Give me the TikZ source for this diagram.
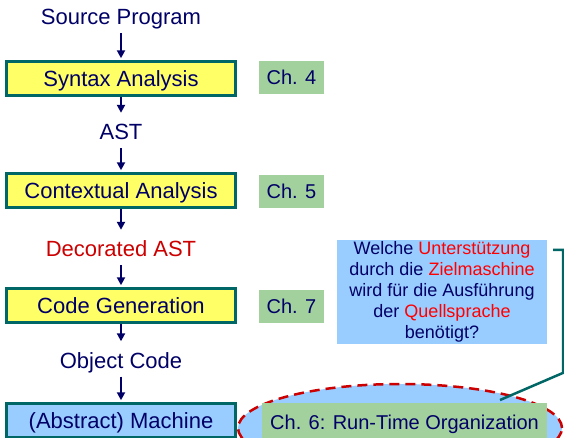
\documentclass[tikz,border=0pt]{standalone}
\usepackage		 {fontspec}
\setmainfont{Liberation Sans}
\usepackage		 {xcolor   }
\usetikzlibrary{shapes,calc,positioning,arrows.meta}

\definecolor{navy}{RGB}{0,0,102}
\definecolor{boxrim}{RGB}{0,102,102}
\definecolor{stageyellow}{RGB}{255,255,102}
\definecolor{chapgreen}{RGB}{163,209,158}
\definecolor{machblue}{RGB}{153,204,255}
\definecolor{decred}{RGB}{204,0,0}
\definecolor{qred}{RGB}{255,0,0}

\begin{document}
\begin{tikzpicture}[x=1pt,y=-1pt]
  \tikzset{ stage/.style={draw=boxrim,line width=2.5pt,fill=stageyellow,text=navy,inner sep=0pt,
              minimum width=229pt,minimum height=34pt,text height=16pt,text depth=0pt,
              font=\fontsize{22}{26}\selectfont},
    chap/.style={fill=chapgreen,text=navy,inner sep=0pt,minimum width=65pt,minimum height=33pt,
              text height=14.3pt,text depth=0pt,font=\fontsize{20}{24}\selectfont},
    lbl/.style={text=navy,inner sep=0pt,minimum height=33pt,text height=16pt,text depth=0pt,
              font=\fontsize{22}{26}\selectfont},
    flow/.style={draw=navy,line width=2pt,-{Triangle[width=8pt,length=8pt]},shorten >=2pt},
    link/.style={draw=boxrim,line width=2.5pt},
  }
  \useasboundingbox (0,0) rectangle (564,437);

  % the phases on the left
  \node[lbl] (SRC) at (121,16.5) {Source Program};
  \node[stage] (SYN) at (121,78.5) {Syntax Analysis};
  \node[lbl] (AST) at (121,131.5) {AST};
  \node[stage] (CTX) at (121,190.5) {Contextual Analysis};
  \node[lbl,text=decred] (DAST) at (121,248.5) {Decorated AST};
  \node[stage] (GEN) at (121,305.5) {Code Generation};
  \node[lbl] (OBJ) at (121,360) {Object Code};
  \node[stage,fill=machblue] (MACH) at (121,420.5) {(Abstract) Machine};

  \draw[flow] (SRC) -- (SYN);
  \draw[flow] (SYN) -- (AST);
  \draw[flow] (AST) -- (CTX);
  \draw[flow] (CTX) -- (DAST);
  \draw[flow] (DAST) -- (GEN);
  \draw[flow] (GEN) -- (OBJ);
  \draw[flow] (OBJ) -- (MACH);

  % chapters
  \node[chap] (CH4) at (291.5,77.5) {Ch. 4};
  \node[chap] (CH5) at (291.5,191.5) {Ch. 5};
  \node[chap] (CH7) at (291.5,306.5) {Ch. 7};

  \node[ellipse,draw=decred,line width=2.5pt,dash pattern=on 10pt off 6pt,fill=machblue,
        minimum width=324pt,minimum height=88pt] (ORG) at (400,428) {};
  \node[chap,minimum width=285pt,minimum height=38pt] (CH6) at (404.5,422)
        {Ch. 6: Run-Time Organization};

  % the question
  \node[fill=machblue,text=navy,align=center,inner sep=0pt,minimum width=210pt,minimum height=104pt,
        font=\fontsize{18}{21}\selectfont] (ASK) at (442,292)
        {Welche \textcolor{qred}{Unterstützung}\\
         durch die \textcolor{qred}{Zielmaschine}\\
         wird für die Ausführung\\
         der \textcolor{qred}{Quellsprache}\\
         benötigt?};
  \coordinate (askend) at (500,400);
  \draw[link] ([shift={(6,10)}]ASK.north east) -- ++(10,0) -- ++(0,123) -- (askend);
\end{tikzpicture}
\end{document}
